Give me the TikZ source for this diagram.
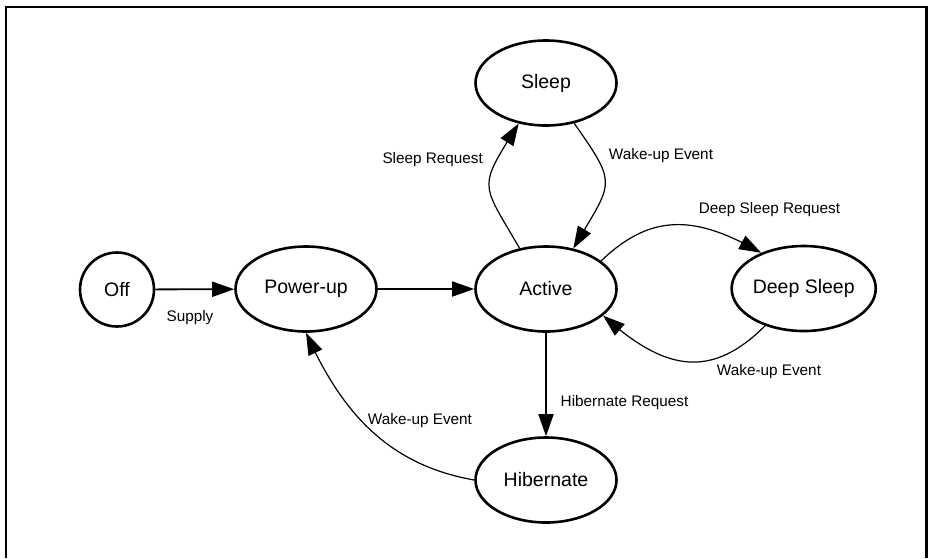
\documentclass[tikz,border=0pt]{standalone}
\usepackage{fontspec}
\setmainfont{Liberation Sans}
\usetikzlibrary{arrows.meta,bending,shapes.geometric}

\begin{document}
\begin{tikzpicture}[x=1pt,y=1pt,
    state/.style={draw,ellipse,line width=2.6pt,minimum width=141pt,minimum height=85pt,inner sep=0pt,font=\fontsize{19.5}{23}\selectfont},
    lbl/.style={inner sep=0pt,font=\fontsize{15.3}{18}\selectfont},
    trans/.style={line width=1.2pt,-{Triangle[length=22pt,width=15pt,flex]}},
    thick trans/.style={trans,line width=1.8pt}]
\useasboundingbox (0,0) rectangle (928,-558);
\draw[line width=2.7pt] (6,-558) -- (6,-7) -- (926.5,-7) -- (926.5,-558);
\node[state,circle,minimum size=74pt] (off) at (117,-289.5) {Off};
\foreach \n/\x/\y/\t in {pwr/306/289/Power-up,act/546/289/Active,slp/546/83/Sleep,dsl/803.7/288.5/Deep Sleep,hib/546/480/Hibernate} {
    \node[state] (\n) at (\x,-\y) {\t};
}
\draw[thick trans] (off) -- (pwr);
\draw[thick trans] (pwr) -- (act);
\draw[thick trans] (act) -- (hib);
\draw[trans] (act.123) to[out=120,in=-122,looseness=1.6] (slp.236);
\draw[trans] (slp.-55) to[out=-55,in=60,looseness=1.6] (act.56);
\draw[trans] (act.27) to[out=44,in=150,looseness=1.15] (dsl.140);
\draw[trans] (dsl.224) to[out=-135,in=-42,looseness=1.25] (act.-25);
\draw[trans] (hib.180) to[out=170,in=-66] (pwr.270);
\node[lbl] (supply) at (190,-318) {Supply};
\node[lbl] (slpreq) at (432.7,-160) {Sleep Request};
\node[lbl] (slpwake) at (661,-156) {Wake-up Event};
\node[lbl] (dslreq) at (769.5,-210) {Deep Sleep Request};
\node[lbl] (dslwake) at (769,-372) {Wake-up Event};
\node[lbl] (hibreq) at (624.5,-403) {Hibernate Request};
\node[lbl] (hibwake) at (420,-421) {Wake-up Event};
\end{tikzpicture}
\end{document}
